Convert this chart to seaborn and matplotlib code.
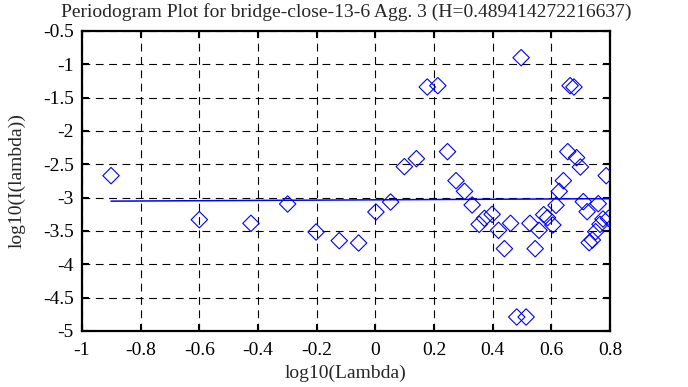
import matplotlib
matplotlib.use("Agg")
import matplotlib.pyplot as plt
import pandas as pd
import seaborn as sns

# Periodogram points (log10 frequency vs log10 power)
log_lambda = [-0.901, -0.600, -0.424, -0.299, -0.202, -0.123, -0.057, 0.002, 0.052, 0.099,
              0.140, 0.177, 0.213, 0.246, 0.275, 0.304, 0.330, 0.354, 0.372, 0.398,
              0.420, 0.440, 0.461, 0.482, 0.497, 0.514, 0.527, 0.545, 0.558, 0.574,
              0.587, 0.605, 0.616, 0.627, 0.641, 0.656, 0.664, 0.677, 0.686, 0.699,
              0.709, 0.722, 0.729, 0.740, 0.751, 0.760, 0.766, 0.776, 0.787, 0.795]
log_power = [-2.67, -3.33, -3.385, -3.095, -3.515, -3.645, -3.68, -3.215, -3.065, -2.535,
             -2.415, -1.34, -1.32, -2.31, -2.745, -2.905, -3.11, -3.40, -3.31, -3.25,
             -3.49, -3.765, -3.385, -4.79, -0.90, -4.79, -3.385, -3.765, -3.49, -3.255,
             -3.30, -3.41, -3.115, -2.905, -2.745, -2.31, -1.32, -1.34, -2.40, -2.54,
             -3.06, -3.21, -3.675, -3.635, -3.51, -3.09, -3.40, -3.32, -2.67, -3.31]

# least squares fit line (slope = 1 - 2H)
fit_x = [-0.901, 0.8]
fit_y = [-3.052, -3.015]

x_ticks = [-1, -0.8, -0.6, -0.4, -0.2, 0, 0.2, 0.4, 0.6, 0.8]
y_ticks = [-5, -4.5, -4, -3.5, -3, -2.5, -2, -1.5, -1, -0.5]
title = "Periodogram Plot for bridge-close-13-6 Agg. 3 (H=0.489414272216637)"

sns.set_style("ticks")
plt.rcParams["font.family"] = ["Liberation Serif", "DejaVu Serif"]
fs = 14

points = pd.DataFrame({"x": log_lambda, "y": log_power})
fit = pd.DataFrame({"x": fit_x, "y": fit_y})

fig = plt.figure(figsize=(6.88, 3.87), dpi=100)
ax = fig.add_axes([82 / 688, 1 - 331 / 387, 528 / 688, 300 / 387])

sns.lineplot(data=fit, x="x", y="y", color="blue", linewidth=1.1, ax=ax)
sns.scatterplot(data=points, x="x", y="y", marker="D", s=70, facecolor="none",
                edgecolor="blue", linewidth=0.8, ax=ax, zorder=3)

ax.set_xlim(-1, 0.8)
ax.set_ylim(-5, -0.5)
ax.set_xticks(x_ticks)
ax.set_yticks(y_ticks)
ax.set_xticklabels([f"{v:g}" for v in x_ticks])
ax.set_yticklabels([f"{v:g}" for v in y_ticks])
ax.tick_params(direction="in", length=5, width=1.5, top=True, right=True,
               labelsize=fs, colors="black")
ax.tick_params(axis="x", pad=8)
ax.tick_params(axis="y", pad=6)

ax.set_axisbelow(True)
ax.grid(True, color="black", linestyle=(0, (7, 5)), linewidth=0.8)
for spine in ax.spines.values():
    spine.set_visible(True)
    spine.set_linewidth(1.6)
    spine.set_color("black")

ax.set_xlabel("log10(Lambda)", fontsize=fs, labelpad=4)
ax.set_ylabel("log10(I(lambda))", fontsize=fs, labelpad=12)
ax.set_title(title, fontsize=fs, pad=10)

fig.savefig("out.png", dpi=100)
